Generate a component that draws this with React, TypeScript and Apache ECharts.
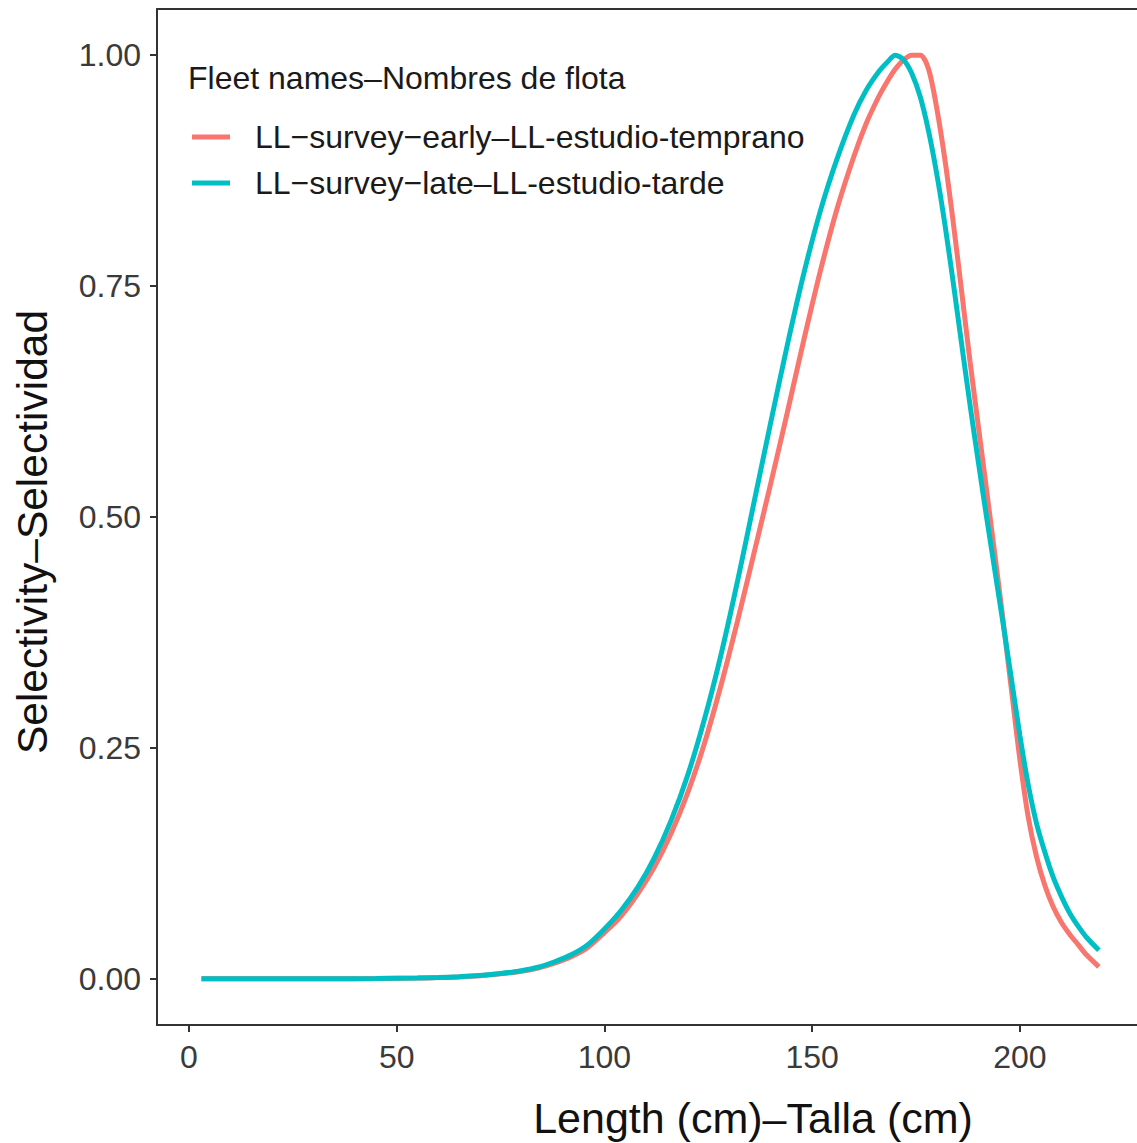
import React, { useEffect, useRef } from "react";
import * as echarts from "echarts";

const lengths = [3, 15, 25, 35, 45, 55, 60, 65, 70, 75, 80, 84, 88, 92, 96, 100, 104, 108, 112, 116, 120, 124, 128, 132, 136, 140, 144, 148, 152, 156, 160, 163, 166, 168, 170, 172, 174, 176, 178, 180, 182, 184, 186, 188, 190, 192, 194, 196, 198, 200, 202, 204, 206, 208, 210, 212, 214, 216, 219];

const earlySel = [0, 0, 0, 0.0001, 0.0003, 0.0008, 0.0013, 0.0021, 0.0034, 0.0054, 0.0082, 0.0117, 0.017, 0.024, 0.034, 0.05, 0.068, 0.092, 0.121, 0.157, 0.201, 0.254, 0.317, 0.387, 0.461, 0.536, 0.613, 0.692, 0.767, 0.834, 0.89, 0.926, 0.955, 0.971, 0.985, 0.995, 1.0, 1.0, 0.985, 0.942, 0.885, 0.817, 0.743, 0.668, 0.598, 0.528, 0.458, 0.386, 0.311, 0.237, 0.175, 0.132, 0.101, 0.078, 0.061, 0.048, 0.037, 0.026, 0.013];

const lateSel = [0, 0, 0, 0.0001, 0.0003, 0.0008, 0.0014, 0.0023, 0.0036, 0.0057, 0.0088, 0.0125, 0.0185, 0.026, 0.037, 0.054, 0.074, 0.099, 0.131, 0.171, 0.22, 0.28, 0.35, 0.43, 0.516, 0.602, 0.686, 0.764, 0.832, 0.888, 0.935, 0.962, 0.982, 0.992, 1.0, 0.995, 0.98, 0.955, 0.918, 0.871, 0.815, 0.752, 0.686, 0.621, 0.559, 0.499, 0.441, 0.383, 0.323, 0.263, 0.21, 0.168, 0.137, 0.11, 0.089, 0.071, 0.057, 0.045, 0.031];

const xTicks = [0, 50, 100, 150, 200];
const yTicks = [0, 0.25, 0.5, 0.75, 1];
const seriesNames = ["LL\u2212survey\u2212early\u2013LL-estudio-temprano", "LL\u2212survey\u2212late\u2013LL-estudio-tarde"];
const seriesColors = ["#F8766D", "#00BFC4"];
const legendTitle = "Fleet names\u2013Nombres de flota";
const xTitle = "Length (cm)\u2013Talla (cm)";
const yTitle = "Selectivity\u2013Selectividad";

const FONT = "'Liberation Sans', Arial, Helvetica, sans-serif";
const AXIS_COLOR = "#333333";

export default function App() {
  const ref = useRef<HTMLDivElement>(null);
  useEffect(() => {
    if (!ref.current) return;
    const chart = echarts.init(ref.current, null, { renderer: "svg" });
    const mk = (vals: number[]) => lengths.map((l, i) => [l, vals[i]]);
    const lineStyle = { color: AXIS_COLOR, width: 2 };
    chart.setOption({
      animation: false,
      backgroundColor: "#ffffff",
      textStyle: { fontFamily: FONT },
      grid: {
        left: 157,
        top: 9,
        width: 1192,
        height: 1016,
        show: false,
        outerBoundsMode: "none",
        containLabel: false,
      },
      xAxis: [
        {
          type: "value",
          min: -7.7,
          max: 279.2,
          position: "bottom",
          axisLine: { show: true, onZero: false, lineStyle },
          axisTick: { show: true, length: 7, lineStyle, customValues: xTicks },
          splitLine: { show: false },
          axisLabel: {
            customValues: xTicks,
            margin: 16,
            fontSize: 32,
            color: "#3a3a3a",
            fontFamily: FONT,
          },
          name: xTitle,
          nameLocation: "middle",
          nameGap: 71,
          nameTextStyle: { fontSize: 43, color: "#111111", fontFamily: FONT },
        },
        {
          type: "value",
          min: -7.7,
          max: 279.2,
          position: "top",
          axisLine: { show: true, onZero: false, lineStyle },
          axisTick: { show: false },
          axisLabel: { show: false },
          splitLine: { show: false },
        },
      ],
      yAxis: {
        type: "value",
        min: -0.05,
        max: 1.05,
        axisLine: { show: true, onZero: false, lineStyle },
        axisTick: { show: true, length: 7, lineStyle, customValues: yTicks },
        splitLine: { show: false },
        axisLabel: {
          customValues: yTicks,
          margin: 16,
          fontSize: 32,
          color: "#3a3a3a",
          fontFamily: FONT,
          formatter: (v: number) => v.toFixed(2),
        },
      },
      legend: {
        orient: "vertical",
        left: 192,
        top: 121,
        padding: 0,
        itemWidth: 38,
        itemHeight: 5,
        itemGap: 14,
        icon: "rect",
        data: seriesNames,
        textStyle: {
          fontSize: 32,
          lineHeight: 32,
          color: "#1a1a1a",
          fontFamily: FONT,
          padding: [0, 0, 0, 20],
        },
      },
      graphic: [
        {
          type: "text",
          left: 188,
          top: 62,
          style: {
            text: legendTitle,
            fontSize: 32,
            fill: "#1a1a1a",
            fontFamily: FONT,
          },
        },
        {
          type: "text",
          x: 32,
          y: 532,
          rotation: Math.PI / 2,
          style: {
            text: yTitle,
            fontSize: 42.5,
            fill: "#111111",
            fontFamily: FONT,
            align: "center",
            verticalAlign: "middle",
          },
        },
      ],
      series: [
        {
          name: seriesNames[0],
          type: "line",
          data: mk(earlySel),
          showSymbol: false,
          symbol: "none",
          smooth: 0.3,
          lineStyle: { color: seriesColors[0], width: 5 },
          itemStyle: { color: seriesColors[0] },
        },
        {
          name: seriesNames[1],
          type: "line",
          data: mk(lateSel),
          showSymbol: false,
          symbol: "none",
          smooth: 0.3,
          lineStyle: { color: seriesColors[1], width: 5 },
          itemStyle: { color: seriesColors[1] },
        },
      ],
    });
    return () => chart.dispose();
  }, []);
  return (
    <div
      ref={ref}
      style={{ position: "fixed", left: 0, top: 0, width: 1137, height: 1143, background: "#fff" }}
    />
  );
}
